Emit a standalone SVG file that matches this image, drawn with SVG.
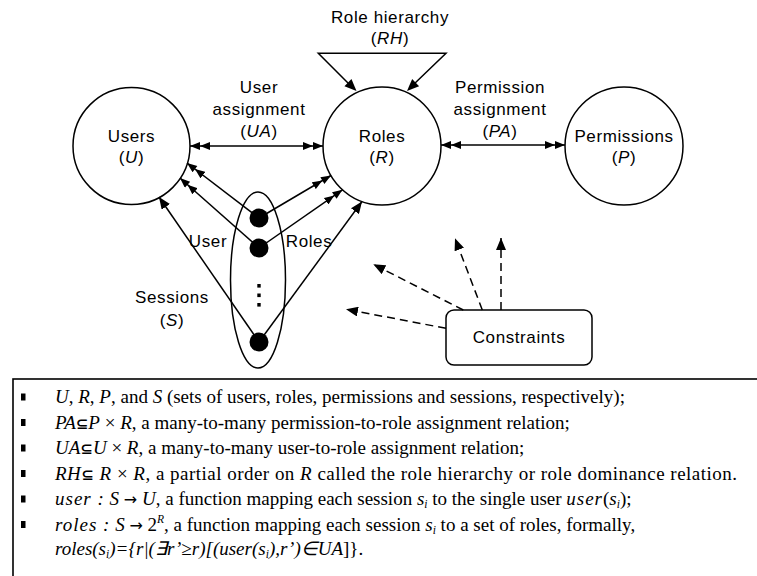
<svg xmlns="http://www.w3.org/2000/svg" width="757" height="576" viewBox="0 0 757 576">
  <style>
    .node { fill: #fff; stroke: #000; stroke-width: 1.5; }
    .lbl { font-family: "Liberation Sans", Arial, sans-serif; font-size: 17px; letter-spacing: 0.6px; text-anchor: middle; fill: #000; }
    .it { font-style: italic; }
    .edge { fill: none; stroke: #000; stroke-width: 1.5; }
    .dash { stroke-dasharray: 8 5; }
    .head { fill: #000; stroke: none; }
    .legend { font-family: "Liberation Serif", "Times New Roman", serif; font-size: 19px; fill: #000; }
    .sym { font-family: "DejaVu Sans", sans-serif; font-weight: bold; font-size: 15px; }
    .arr { font-family: "DejaVu Sans", sans-serif; font-size: 16px; }
    .sub { font-size: 11.5px; font-style: italic; }
  </style>
  <defs>
    <marker id="ah" viewBox="0 0 12 10" refX="12" refY="5" markerWidth="12" markerHeight="10" markerUnits="userSpaceOnUse" orient="auto">
      <path d="M0,0 L12,5 L0,10 Z" fill="#000"/>
    </marker>
    <marker id="ah2" viewBox="0 0 20 8" refX="20" refY="4" markerWidth="20" markerHeight="8" markerUnits="userSpaceOnUse" orient="auto-start-reverse">
      <path d="M0,0 L10,4 L0,8 Z M10,0 L20,4 L10,8 Z" fill="#000"/>
    </marker>
  </defs>

  <g id="users">
    <circle class="node" cx="131.5" cy="146" r="58.5"/>
    <text class="lbl" x="131.5" y="142">Users</text>
    <text class="lbl" x="131.5" y="163">(<tspan class="it">U</tspan>)</text>
  </g>

  <g id="roles">
    <circle class="node" cx="382" cy="146" r="59"/>
    <text class="lbl" x="382" y="142">Roles</text>
    <text class="lbl" x="382" y="163">(<tspan class="it">R</tspan>)</text>
  </g>

  <g id="permissions">
    <circle class="node" cx="624" cy="146" r="59"/>
    <text class="lbl" x="624" y="142">Permissions</text>
    <text class="lbl" x="624" y="163">(<tspan class="it">P</tspan>)</text>
  </g>

  <g id="sessions">
    <ellipse cx="258" cy="280" rx="27.5" ry="88" fill="none" stroke="#000" stroke-width="1.5"/>
    <circle cx="259" cy="218" r="9.5" fill="#000"/>
    <circle cx="259" cy="248" r="9.5" fill="#000"/>
    <circle cx="259" cy="342" r="9.5" fill="#000"/>
    <rect x="257.3" y="284" width="3.4" height="3.6" fill="#000"/>
    <rect x="257.3" y="293.5" width="3.4" height="3.6" fill="#000"/>
    <rect x="257.3" y="303" width="3.4" height="3.6" fill="#000"/>
    <text class="lbl" x="172" y="303">Sessions</text>
    <text class="lbl" x="172" y="326">(<tspan class="it">S</tspan>)</text>
  </g>

  <g id="constraints">
    <rect class="node" x="446" y="310" width="146" height="55" rx="8" ry="8"/>
    <text class="lbl" x="519" y="343">Constraints</text>
  </g>

  <!-- connectors, drawn over the node outlines so every head shows -->
  <g id="connectors">
    <!-- user assignment / permission assignment -->
    <line class="edge" x1="190" y1="146" x2="323" y2="146" marker-start="url(#ah2)" marker-end="url(#ah2)"/>
    <line class="edge" x1="441" y1="145" x2="565" y2="145" marker-start="url(#ah2)" marker-end="url(#ah2)"/>
    <!-- role hierarchy loop -->
    <polyline class="edge" points="350,85 318.3,53.3 446,53.3 413,85"/>
    <polygon class="head" points="356.5,91 344.45,86.13 351.47,79.01"/>
    <polygon class="head" points="407,91 412.15,79.06 419.10,86.25"/>
    <!-- session to user -->
    <line class="edge" x1="259" y1="218" x2="187" y2="163" marker-end="url(#ah2)"/>
    <line class="edge" x1="259" y1="248" x2="180" y2="178" marker-end="url(#ah2)"/>
    <line class="edge" x1="259" y1="342" x2="159" y2="197" marker-end="url(#ah)"/>
    <!-- session to roles -->
    <line class="edge" x1="259" y1="218" x2="331" y2="175.5" marker-end="url(#ah2)"/>
    <line class="edge" x1="259" y1="248" x2="342.5" y2="189.8" marker-end="url(#ah2)"/>
    <line class="edge" x1="259" y1="342" x2="362" y2="201.5" marker-end="url(#ah)"/>
    <!-- constraints -->
    <line class="edge dash" x1="501" y1="310" x2="501" y2="238" marker-end="url(#ah)"/>
    <line class="edge dash" x1="482.3" y1="310" x2="455" y2="238.3" marker-end="url(#ah)"/>
    <line class="edge dash" x1="463.3" y1="310" x2="373.3" y2="264.3" marker-end="url(#ah)"/>
    <line class="edge dash" x1="446" y1="328.3" x2="346" y2="309.3" marker-end="url(#ah)"/>

    <text class="lbl" x="390" y="23">Role hierarchy</text>
    <text class="lbl" x="390" y="44">(<tspan class="it">RH</tspan>)</text>
    <text class="lbl" x="259" y="93">User</text>
    <text class="lbl" x="259" y="115">assignment</text>
    <text class="lbl" x="259" y="137">(<tspan class="it">UA</tspan>)</text>
    <text class="lbl" x="500" y="93">Permission</text>
    <text class="lbl" x="500" y="115">assignment</text>
    <text class="lbl" x="500" y="137">(<tspan class="it">PA</tspan>)</text>
    <text class="lbl" x="208" y="247">User</text>
    <text class="lbl" x="309" y="247">Roles</text>
  </g>

  <!-- definitions panel -->
  <g id="legend">
    <rect x="13" y="379" width="770" height="220" fill="none" stroke="#000" stroke-width="1.6"/>
    <g fill="#000">
      <rect x="21" y="393.5" width="4.5" height="7"/>
      <rect x="21" y="419" width="4.5" height="7"/>
      <rect x="21" y="444.5" width="4.5" height="7"/>
      <rect x="21" y="470" width="4.5" height="7"/>
      <rect x="21" y="495.5" width="4.5" height="7"/>
      <rect x="21" y="521" width="4.5" height="7"/>
    </g>
    <text class="legend" x="55" y="403"><tspan class="it">U</tspan>, <tspan class="it">R</tspan>, <tspan class="it">P</tspan>, and <tspan class="it">S</tspan> (sets of users, roles, permissions and sessions, respectively);</text>
    <text class="legend" x="55" y="428.5"><tspan class="it">PA</tspan><tspan class="sym">⊆</tspan><tspan class="it">P</tspan> × <tspan class="it">R</tspan>, a many-to-many permission-to-role assignment relation;</text>
    <text class="legend" x="55" y="454"><tspan class="it">UA</tspan><tspan class="sym">⊆</tspan><tspan class="it">U</tspan> × <tspan class="it">R</tspan>, a many-to-many user-to-role assignment relation;</text>
    <text class="legend" x="55" y="479.5" textLength="682" lengthAdjust="spacing"><tspan class="it">RH</tspan><tspan class="sym">⊆</tspan> <tspan class="it">R</tspan> × <tspan class="it">R</tspan>, a partial order on <tspan class="it">R</tspan> called the role hierarchy or role dominance relation.</text>
    <text class="legend" x="55" y="505"><tspan class="it" letter-spacing="1">user :</tspan> <tspan class="it">S</tspan> <tspan class="arr">→</tspan> <tspan class="it">U</tspan>, a function mapping each session <tspan class="it">s</tspan><tspan class="sub" dy="3">i</tspan><tspan dy="-3"> to the single user </tspan><tspan class="it" letter-spacing="1">user</tspan>(<tspan class="it">s</tspan><tspan class="sub" dy="3">i</tspan><tspan dy="-3">);</tspan></text>
    <text class="legend" x="55" y="530.5"><tspan class="it" letter-spacing="1">roles :</tspan> <tspan class="it">S</tspan> <tspan class="arr">→</tspan> 2<tspan class="sub" dy="-8">R</tspan><tspan dy="8">, a function mapping each session </tspan><tspan class="it">s</tspan><tspan class="sub" dy="3">i</tspan><tspan dy="-3"> to a set of roles, formally,</tspan></text>
    <text class="legend" x="55" y="555"><tspan class="it">roles(s</tspan><tspan class="sub" dy="3">i</tspan><tspan class="it" dy="-3">)={r|(∃r’≥r)[(user(s</tspan><tspan class="sub" dy="3">i</tspan><tspan class="it" dy="-3">),r’)∈UA</tspan>]}.</text>
  </g>
</svg>
